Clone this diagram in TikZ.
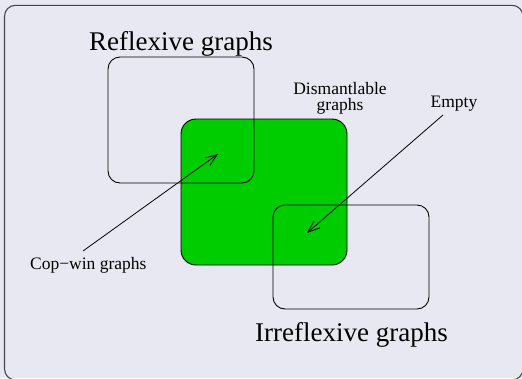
\documentclass[tikz,border=0pt]{standalone}
\usepackage{fontspec}
\setmainfont{Liberation Serif}
\usetikzlibrary{arrows.meta}
\definecolor{bglav}{RGB}{232,232,242}
\definecolor{framegray}{RGB}{70,70,80}
\definecolor{dgreen}{RGB}{0,205,0}
\tikzset{
  setbox/.style={draw=black, line width=0.9pt, rounded corners=12pt, inner sep=0pt},
  bigtext/.style={font=\fontsize{27}{30}\selectfont, inner sep=0pt, anchor=base west},
  smalltext/.style={font=\fontsize{17.5}{18}\selectfont, inner sep=0pt},
  pointer/.style={line width=0.8pt, -{Straight Barb[length=12pt,width=9pt,line width=0.8pt]}}
}
\begin{document}
\begin{tikzpicture}[x=1pt,y=-1pt]
\useasboundingbox (0,0) rectangle (522,378);
\fill[bglav] (0,0) rectangle (522,378);
\begin{scope}
\clip (0,0) rectangle (522,378);
\draw[framegray, line width=1.1pt, rounded corners=11pt] (4.5,5.3) rectangle (523,380);
\end{scope}
% green dismantlable region
\node[setbox, fill=dgreen, rounded corners=15pt, minimum width=166pt, minimum height=146pt] (dis) at (264,192) {};
% reflexive and irreflexive boxes
\node[setbox, minimum width=146pt, minimum height=126pt] (refl) at (181,120) {};
\node[setbox, minimum width=156pt, minimum height=104pt] (irr) at (351,257) {};
% labels
\node[bigtext] (refltxt) at (89,50) {Reflexive graphs};
\node[bigtext] (irrtxt) at (255,341) {Irreflexive graphs};
\node[smalltext, anchor=base] (dis1) at (340,94.5) {Dismantlable};
\node[smalltext, anchor=base] (dis2) at (340,110.5) {graphs};
\node[smalltext, anchor=base] (empty) at (454,107) {Empty};
\node[smalltext, anchor=base west] (cop) at (30,269) {Cop−win graphs};
% pointers
\coordinate (copstart) at (83,251);
\coordinate (copend) at (218,154);
\coordinate (empstart) at (443,115);
\coordinate (empend) at (307,233);
\draw[pointer] (copstart) -- (copend);
\draw[pointer] (empstart) -- (empend);
\end{tikzpicture}
\end{document}
